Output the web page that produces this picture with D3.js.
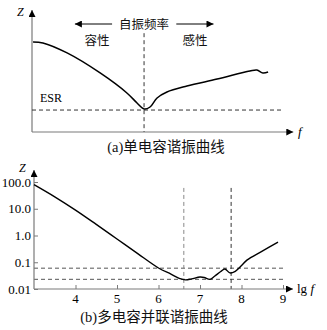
<!DOCTYPE html>
<html>
<head>
<meta charset="utf-8">
<script src="https://cdn.jsdelivr.net/npm/d3@7"></script>
<style>
  body { margin: 0; background: #fff; }
  svg { display: block; }
  .serif { font-family: "Liberation Serif", "DejaVu Serif", serif; }
  .cjk { font-family: "Liberation Serif", "Noto Sans CJK SC", sans-serif; font-weight: 400; fill: #111; }
</style>
</head>
<body>
<svg id="chart" width="327" height="330"></svg>
<script>
// (a) single capacitor resonance - qualitative curve (0..100 units)
var curveAX = [0.4, 4.2, 13.5, 26.2, 36.5, 40.4, 43.1, 45.4, 48.1, 51.9, 59.6, 71.2, 83.8, 86.5, 88.8, 90.8];
var curveAY = [73.8, 73, 64.8, 48.4, 32, 23.8, 18.9, 20.5, 27.9, 32.8, 37.7, 43.4, 50, 50.8, 48.4, 49.2];
var esrLevel = 18;
var resonanceX = 43.1;

// (b) parallel capacitors: lg f vs Z (log)
var lgF = [3.0, 3.5, 4.0, 4.5, 5.0, 5.5, 6.0, 6.3, 6.5, 6.65, 6.8, 7.0, 7.1, 7.24, 7.35, 7.5, 7.6, 7.72, 7.85, 8.0, 8.13, 8.5, 8.88];
var zVal = [80, 28, 8.9, 2.6, 0.74, 0.21, 0.061, 0.036, 0.025, 0.022, 0.024, 0.028, 0.027, 0.023, 0.03, 0.045, 0.056, 0.04, 0.046, 0.075, 0.12, 0.26, 0.57];
var hLevels = [0.06, 0.023];
var vLevels = [6.61, 7.75];
var xTicks = [4, 5, 6, 7, 8, 9];
var yTicks = [100, 10, 1, 0.1, 0.01];
var yTickLabels = ["100.0", "10.0", "1.0", "0.1", "0.01"];

var svg = d3.select("#chart");
var axisColor = "#7a7a7a";

var defs = svg.append("defs");
defs.append("marker")
  .attr("id", "head")
  .attr("viewBox", "0 0 10 10")
  .attr("refX", 10).attr("refY", 5)
  .attr("markerUnits", "userSpaceOnUse")
  .attr("markerWidth", 9).attr("markerHeight", 7)
  .attr("orient", "auto")
  .append("path").attr("d", "M0,0L10,5L0,10Z").attr("fill", "#000");

// ---------- chart (a) ----------
var xa = d3.scaleLinear().domain([0, 100]).range([32, 292]);
var ya = d3.scaleLinear().domain([0, 100]).range([132, 10]);

var ga = svg.append("g");
ga.append("line")
  .attr("x1", xa(0)).attr("y1", ya(0)).attr("x2", xa(0)).attr("y2", ya(100))
  .attr("stroke", axisColor).attr("stroke-width", 1.2).attr("marker-end", "url(#head)");
ga.append("line")
  .attr("x1", xa(0)).attr("y1", ya(0)).attr("x2", xa(100.5)).attr("y2", ya(0))
  .attr("stroke", axisColor).attr("stroke-width", 1.2).attr("marker-end", "url(#head)");

ga.append("line")
  .attr("x1", xa(0)).attr("x2", xa(96))
  .attr("y1", ya(esrLevel)).attr("y2", ya(esrLevel))
  .attr("stroke", "#333").attr("stroke-dasharray", "4,3");
ga.append("line")
  .attr("x1", xa(resonanceX)).attr("x2", xa(resonanceX))
  .attr("y1", ya(81)).attr("y2", ya(0))
  .attr("stroke", "#333").attr("stroke-dasharray", "4,3");

ga.append("path")
  .datum(d3.range(curveAX.length))
  .attr("fill", "none").attr("stroke", "#000").attr("stroke-width", 1.5)
  .attr("d", d3.line().curve(d3.curveCatmullRom)
    .x(function (i) { return xa(curveAX[i]); })
    .y(function (i) { return ya(curveAY[i]); }));

// arrows around the label
ga.append("line")
  .attr("x1", xa(30.8)).attr("x2", xa(16.5)).attr("y1", 24).attr("y2", 24)
  .attr("stroke", "#000").attr("stroke-width", 1).attr("marker-end", "url(#head)");
ga.append("line")
  .attr("x1", xa(55.5)).attr("x2", xa(69.8)).attr("y1", 24).attr("y2", 24)
  .attr("stroke", "#000").attr("stroke-width", 1).attr("marker-end", "url(#head)");

ga.append("text").attr("class", "cjk").attr("x", xa(resonanceX)).attr("y", 29)
  .attr("text-anchor", "middle").attr("font-size", 12.5).text("自振频率");
ga.append("text").attr("class", "cjk").attr("x", 97).attr("y", 45)
  .attr("text-anchor", "middle").attr("font-size", 12.5).text("容性");
ga.append("text").attr("class", "cjk").attr("x", 195).attr("y", 45)
  .attr("text-anchor", "middle").attr("font-size", 12.5).text("感性");
ga.append("text").attr("class", "serif").attr("x", 40).attr("y", 102)
  .attr("font-size", 12).text("ESR");
ga.append("text").attr("class", "serif").attr("x", 17).attr("y", 16)
  .attr("font-size", 12).attr("font-style", "italic").text("Z");
ga.append("text").attr("class", "serif").attr("x", 298).attr("y", 136)
  .attr("font-size", 13).attr("font-style", "italic").text("f");
ga.append("text").attr("class", "cjk").attr("x", 166).attr("y", 152)
  .attr("text-anchor", "middle").attr("font-size", 14.5).text("(a)单电容谐振曲线");

// ---------- chart (b) ----------
var xb = d3.scaleLinear().domain([3, 9]).range([34, 283]);
var yb = d3.scaleLog().domain([0.01, 100]).range([289, 182]);

var gb = svg.append("g");

hLevels.forEach(function (v) {
  gb.append("line")
    .attr("x1", xb(3)).attr("x2", xb(9))
    .attr("y1", yb(v)).attr("y2", yb(v))
    .attr("stroke", "#555").attr("stroke-dasharray", "4,3");
});
vLevels.forEach(function (v, i) {
  gb.append("line")
    .attr("x1", xb(v)).attr("x2", xb(v))
    .attr("y1", yb(60)).attr("y2", yb(0.01))
    .attr("stroke", i == 0 ? "#888" : "#333").attr("stroke-dasharray", "4,3");
});

var xAxis = d3.axisTop(xb).tickValues(xTicks).tickSize(4).tickFormat("");
gb.append("g").attr("transform", "translate(0," + yb(0.01) + ")").call(xAxis)
  .call(function (g) {
    g.select(".domain").remove();
    g.selectAll("line").attr("stroke", axisColor);
  });
gb.selectAll(".xlab").data(xTicks).enter().append("text")
  .attr("class", "serif").attr("x", function (d) { return xb(d); }).attr("y", 303)
  .attr("text-anchor", "middle").attr("font-size", 13).text(function (d) { return d; });

var yAxis = d3.axisRight(yb).tickValues(yTicks).tickSize(4).tickFormat("");
gb.append("g").attr("transform", "translate(" + xb(3) + ",0)").call(yAxis)
  .call(function (g) {
    g.select(".domain").remove();
    g.selectAll("line").attr("stroke", axisColor);
  });
gb.selectAll(".ylab").data(yTicks).enter().append("text")
  .attr("class", "serif").attr("x", 31).attr("y", function (d) { return yb(d) + 4.5; })
  .attr("text-anchor", "end").attr("font-size", 13)
  .text(function (d, i) { return yTickLabels[i]; });

gb.append("line")
  .attr("x1", xb(3)).attr("y1", yb(0.01)).attr("x2", xb(3)).attr("y2", 170)
  .attr("stroke", axisColor).attr("stroke-width", 1.2).attr("marker-end", "url(#head)");
gb.append("line")
  .attr("x1", xb(3)).attr("y1", yb(0.01)).attr("x2", 293).attr("y2", yb(0.01))
  .attr("stroke", axisColor).attr("stroke-width", 1.2).attr("marker-end", "url(#head)");

gb.append("path")
  .datum(d3.range(lgF.length))
  .attr("fill", "none").attr("stroke", "#000").attr("stroke-width", 1.4)
  .attr("d", d3.line().curve(d3.curveCatmullRom)
    .x(function (i) { return xb(lgF[i]); })
    .y(function (i) { return yb(zVal[i]); }));

gb.append("text").attr("class", "serif").attr("x", 19).attr("y", 172)
  .attr("font-size", 12).attr("font-style", "italic").text("Z");
var lg = gb.append("text").attr("class", "serif").attr("x", 297).attr("y", 293).attr("font-size", 13);
lg.append("tspan").text("lg");
lg.append("tspan").attr("font-style", "italic").text(" f");
gb.append("text").attr("class", "cjk").attr("x", 154).attr("y", 322)
  .attr("text-anchor", "middle").attr("font-size", 14.5).text("(b)多电容并联谐振曲线");
</script>
</body>
</html>
